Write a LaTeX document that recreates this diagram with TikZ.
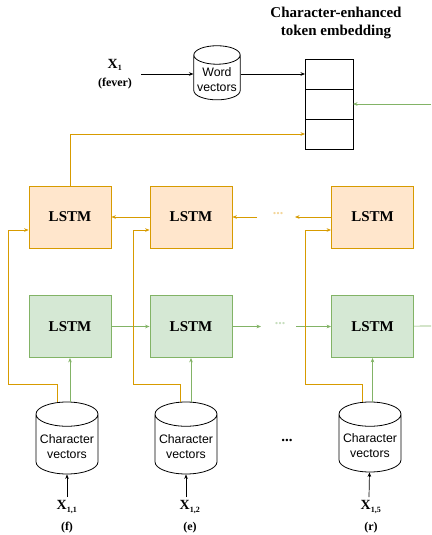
\documentclass[tikz,border=0pt]{standalone}
\usepackage{fontspec}
\setmainfont{Liberation Serif}
\newfontfamily\cvfont{Liberation Sans}
\usepackage{tikz}
\usetikzlibrary{arrows.meta, positioning, shapes.geometric, calc}
\usepackage{xcolor}
\definecolor{orline}{HTML}{D79B00}
\definecolor{orfill}{HTML}{FFE6CC}
\definecolor{grline}{HTML}{82B366}
\definecolor{grfill}{HTML}{D5E8D4}

\begin{document}
\begin{tikzpicture}[x=1pt, y=-1pt,
    lstm/.style={draw, line width=0.8pt, minimum width=82pt, minimum height=62pt,
                 font=\fontsize{15}{18}\selectfont\bfseries},
    fwd/.style={lstm, draw=grline, fill=grfill},
    bwd/.style={lstm, draw=orline, fill=orfill},
    cyl/.style={cylinder, shape border rotate=90, aspect=0.4, draw, line width=0.8pt,
                align=center, font=\cvfont\fontsize{12.3}{15}\selectfont},
    cell/.style={draw, line width=0.8pt, minimum width=48pt, minimum height=30pt, outer sep=0pt},
    xlbl/.style={font=\fontsize{14}{16}\selectfont\bfseries},
    clbl/.style={font=\fontsize{12}{14}\selectfont\bfseries},
    arr/.style={-{Stealth[length=4.5pt, width=3.6pt]}, line width=0.7pt},
    orarr/.style={arr, orline},
    grarr/.style={arr, grline}
  ]
    \useasboundingbox (0,0) rectangle (431,535);

    % top: word vectors and embedding
    \node[font=\fontsize{15}{18}\selectfont\bfseries, align=center] (title) at (336,23)
      {Character-enhanced\\token embedding};
    \node[xlbl] (x1) at (115,65) {X\textsubscript{\fontsize{8}{8}\selectfont 1}};
    \node[clbl] (fever) at (115,84) {(fever)};
    \coordinate (x1out) at (141,74);
    \node[cyl, minimum width=44pt, minimum height=50pt] (wv) at (217,80) {Word\\vectors};
    \node[cell] (emb1) at (329,74) {};
    \node[cell, below=0pt of emb1] (emb2) {};
    \node[cell, below=0pt of emb2] (emb3) {};
    \coordinate (gin) at (431,104);
    \coordinate (gout) at (431,326);

    % LSTM rows
    \node[bwd] (u1) at (70,217) {LSTM};
    \node[bwd] (u2) at (191,217) {LSTM};
    \node[bwd] (u3) at (372.5,217) {LSTM};
    \node[fwd] (g1) at (70,326.5) {LSTM};
    \node[fwd] (g2) at (191,326.5) {LSTM};
    \node[fwd] (g3) at (372.5,326.5) {LSTM};
    \node[text=orfill!55!orline!70, font=\fontsize{14}{14}\selectfont\bfseries] (udots) at (278,214) {...};
    \node[text=grfill!55!grline!70, font=\fontsize{14}{14}\selectfont\bfseries] (gdots) at (280,324) {...};
    \coordinate (ud1) at (257,217);
    \coordinate (ud2) at (295,217);
    \coordinate (gd1) at (261,326.5);
    \coordinate (gd2) at (296,326.5);

    % character vectors
    \node[cyl, minimum width=62pt, minimum height=72pt] (cv1) at (67,447) {Character\\vectors};
    \node[cyl, minimum width=62pt, minimum height=72pt] (cv2) at (186,447) {Character\\vectors};
    \node[cyl, minimum width=62pt, minimum height=70pt] (cv3) at (370,446) {Character\\vectors};
    \node[font=\fontsize{15}{15}\selectfont\bfseries] (cdots) at (287,440) {...};
    \node[xlbl] (x11) at (67,507) {X\textsubscript{\fontsize{8}{8}\selectfont 1,1}};
    \node[xlbl] (x12) at (190,507) {X\textsubscript{\fontsize{8}{8}\selectfont 1,2}};
    \node[xlbl] (x15) at (371,507) {X\textsubscript{\fontsize{8}{8}\selectfont 1,5}};
    \node[clbl] (c1) at (67,528) {(f)};
    \node[clbl] (c2) at (190,528) {(e)};
    \node[clbl] (c5) at (371,528) {(r)};

    \draw[arr] (x1out) -- (x1out -| wv.west);
    \draw[arr] (wv.east |- emb1.west) -- (emb1.west);
    \draw[grarr] (gin) -- (emb2);
    \draw[orarr] (u1.north) |- (emb3.west);

    \draw[orarr] (u2) -- (u1);
    \draw[orarr] (ud1) -- (u2);
    \draw[orarr] (u3) -- (ud2);
    \draw[grarr] (g1) -- (g2);
    \draw[grarr] (g2) -- (gd1);
    \draw[grarr] (gd2) -- (g3);
    \draw[grline, line width=0.7pt] (g3) -- (gout);

    \draw[grarr] (g1.south |- cv1.north) -- (g1.south);
    \draw[grarr] (g2.south |- cv2.north) -- (g2.south);
    \draw[grarr] (g3.south |- cv3.north) -- (g3.south);
    \draw[orarr] ($(g1.south |- cv1.north)+(-13,0)$) |- (8,384) -- (8,230) -- ([yshift=-13pt]u1.west);
    \draw[orarr] ($(g2.south |- cv2.north)+(-11,0)$) |- (133,384) -- (133,230) -- ([yshift=-13pt]u2.west);
    \draw[orarr] ($(g3.south |- cv3.north)+(-10,0)$) |- (305,384) -- (305,230) -- ([yshift=-13pt]u3.west);

    \draw[arr] (x11) -- (cv1);
    \draw[arr] ([xshift=-4pt]x12.north) -- (cv2);
    \draw[arr] ([xshift=-2pt]x15.north) -- (cv3);
  \end{tikzpicture}
\end{document}
